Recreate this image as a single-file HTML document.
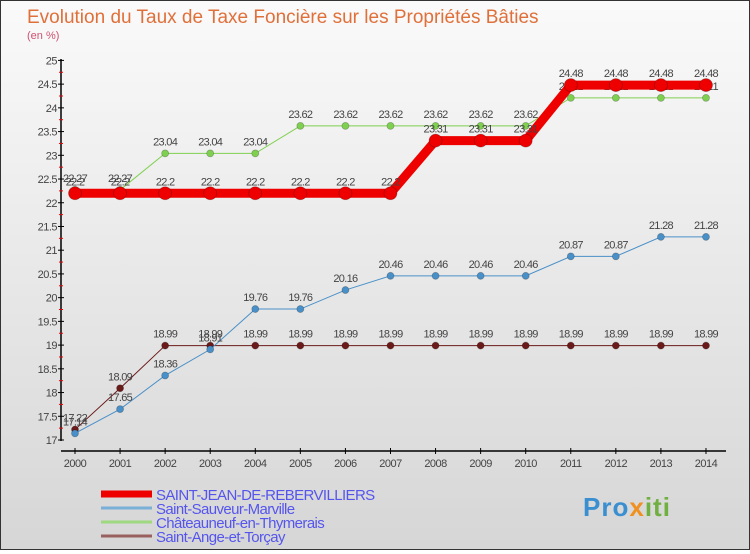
<!DOCTYPE html>
<html><head><meta charset="utf-8"><style>
body{margin:0;width:750px;height:550px;overflow:hidden;font-family:"Liberation Sans",sans-serif}
#wrap{position:relative;width:748px;height:548px;border:1px solid #333;background:linear-gradient(#fafafa,#d6d6d6)}
text{font-family:"Liberation Sans",sans-serif}
</style></head><body>
<div id="wrap">
<svg id="chart" width="748" height="548"></svg>
</div>
<script>
const years=["2000","2001","2002","2003","2004","2005","2006","2007","2008","2009","2010","2011","2012","2013","2014"];
const yTicks=[17,17.5,18,18.5,19,19.5,20,20.5,21,21.5,22,22.5,23,23.5,24,24.5,25];
const redVals=[22.2,22.2,22.2,22.2,22.2,22.2,22.2,22.2,23.31,23.31,23.31,24.48,24.48,24.48,24.48];
const blueVals=[17.14,17.65,18.36,18.91,19.76,19.76,20.16,20.46,20.46,20.46,20.46,20.87,20.87,21.28,21.28];
const greenVals=[22.27,22.27,23.04,23.04,23.04,23.62,23.62,23.62,23.62,23.62,23.62,24.21,24.21,24.21,24.21];
const brownVals=[17.22,18.09,18.99,18.99,18.99,18.99,18.99,18.99,18.99,18.99,18.99,18.99,18.99,18.99,18.99];
const seriesNames=["SAINT-JEAN-DE-REBERVILLIERS","Saint-Sauveur-Marville","Châteauneuf-en-Thymerais","Saint-Ange-et-Torçay"];
const svg=document.getElementById('chart');const NS="http://www.w3.org/2000/svg";
function X(i){return 74+i*45.07;}
function Y(v){return 439-(v-17)*47.45;}
function el(t,a,txt){const e=document.createElementNS(NS,t);for(const k in a)e.setAttribute(k,a[k]);if(txt!==undefined)e.textContent=txt;svg.appendChild(e);return e;}
let t=el('text',{x:26,y:22,'font-size':19,fill:'#e0703a'},'Evolution du Taux de Taxe Foncière sur les Propriétés Bâties');


t=el('text',{x:26,y:38,'font-size':11,fill:'#d05070'},'(en %)');


let a=el('line',{x1:60,y1:58,x2:60,y2:440,stroke:'#000','stroke-width':1.5});


a=el('line',{x1:60,y1:450,x2:725,y2:450,stroke:'#000','stroke-width':1.5});


yTicks.forEach((v,i)=>{
 const y=Y(v);
 el('line',{x1:57,y1:y,x2:63,y2:y,stroke:'#000'});
 if(i<yTicks.length-1)el('line',{x1:58,y1:Y(v+0.25),x2:62,y2:Y(v+0.25),stroke:'#e00'});
 const l=el('text',{x:56,y:y+4,'font-size':11,fill:'#444','text-anchor':'end','letter-spacing':'-0.5'},String(v));
 
 
});
years.forEach((yr,i)=>{
 el('line',{x1:X(i),y1:447,x2:X(i),y2:453,stroke:'#000'});
 const l=el('text',{x:X(i),y:466,'font-size':11,fill:'#444','text-anchor':'middle','letter-spacing':'-0.5'},yr);
 
 
});
function series(vals,color,w,r,name){
 const p=el('polyline',{points:vals.map((v,i)=>X(i)+','+Y(v)).join(' '),fill:'none',stroke:color,'stroke-width':w});
 
 
 vals.forEach((v,i)=>{
  const c=el('circle',{cx:X(i),cy:Y(v),r:r,fill:color,stroke:'rgba(0,0,0,0.25)','stroke-width':0.8});
  
  
  const l=el('text',{x:X(i),y:Y(v)-8,'font-size':11,fill:'#444','text-anchor':'middle','letter-spacing':'-0.7'},String(v));
  
  
 });
}
series(brownVals,'#6b1a1a',1,3.5,'saint-ange');
series(blueVals,'#4a90c8',1,3.5,'saint-sauveur');
series(greenVals,'#7fd050',1,3.5,'chateauneuf');
series(redVals,'#ee0000',9,6.5,'saint-jean');
const legColors=['#ee0000','#7ab0d8','#9ed880','#9a6060'];const legW=[7,3,3,3];
seriesNames.forEach((n,i)=>{
 const y=493+i*14;
 const ln=el('line',{x1:100,y1:y,x2:151,y2:y,stroke:legColors[i],'stroke-width':legW[i]});
 
 
 const l=el('text',{x:155,y:y+6,'font-size':15,fill:'#5555ee','letter-spacing':'-0.6'},n);
 
 
});
const g=el('text',{x:582,y:515,'font-size':26,'font-weight':'bold','letter-spacing':'1'},'');


[['Pro','#3a8fd0'],['x','#f09020'],['iti','#70b040']].forEach(p=>{const s=document.createElementNS(NS,'tspan');s.setAttribute('fill',p[1]);s.textContent=p[0];g.appendChild(s);});
</script>
</body></html>
